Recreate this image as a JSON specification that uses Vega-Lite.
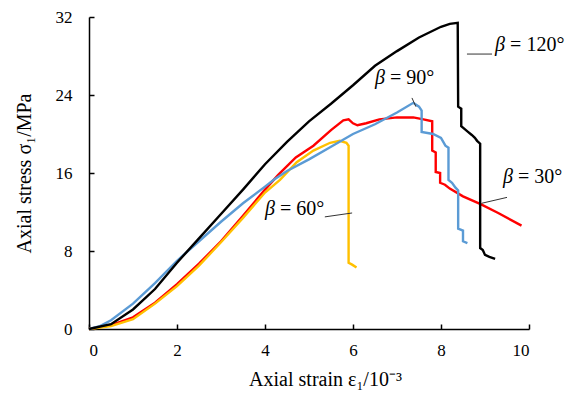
{
  "$schema": "https://vega.github.io/schema/vega-lite/v6.json",
  "width": 440,
  "height": 312,
  "autosize": {"type": "none"},
  "padding": {"left": 89, "top": 17, "right": 44, "bottom": 72},
  "background": "white",
  "config": {
    "view": {"stroke": null},
    "font": "Liberation Serif, Times New Roman, serif",
    "axis": {
      "grid": false,
      "domainColor": "#000000",
      "domainWidth": 1.5,
      "tickColor": "#000000",
      "tickWidth": 1.5,
      "tickSize": -5,
      "labelFont": "Liberation Serif, Times New Roman, serif",
      "labelFontSize": 17,
      "labelColor": "#000000",
      "titleFont": "Liberation Serif, Times New Roman, serif",
      "titleFontSize": 20,
      "titleFontWeight": "normal",
      "titleColor": "#000000"
    }
  },
  "datasets": {
    "curves": [
      {"s": "β = 30°", "x": 0, "y": 0}, {"s": "β = 30°", "x": 0.5, "y": 0.4}, {"s": "β = 30°", "x": 1, "y": 1.2}, {"s": "β = 30°", "x": 1.5, "y": 2.7}, {"s": "β = 30°", "x": 2, "y": 4.6}, {"s": "β = 30°", "x": 2.5, "y": 6.7}, {"s": "β = 30°", "x": 3, "y": 9.0}, {"s": "β = 30°", "x": 3.5, "y": 11.6}, {"s": "β = 30°", "x": 4, "y": 14.3}, {"s": "β = 30°", "x": 4.3, "y": 15.8}, {"s": "β = 30°", "x": 4.7, "y": 17.6}, {"s": "β = 30°", "x": 5.1, "y": 18.8}, {"s": "β = 30°", "x": 5.5, "y": 20.4}, {"s": "β = 30°", "x": 5.78, "y": 21.4}, {"s": "β = 30°", "x": 5.9, "y": 21.5}, {"s": "β = 30°", "x": 6.0, "y": 21.1}, {"s": "β = 30°", "x": 6.1, "y": 20.9}, {"s": "β = 30°", "x": 6.3, "y": 21.1}, {"s": "β = 30°", "x": 6.6, "y": 21.5}, {"s": "β = 30°", "x": 7.0, "y": 21.7}, {"s": "β = 30°", "x": 7.37, "y": 21.7}, {"s": "β = 30°", "x": 7.6, "y": 21.5}, {"s": "β = 30°", "x": 7.8, "y": 21.3}, {"s": "β = 30°", "x": 7.8, "y": 18.3}, {"s": "β = 30°", "x": 7.88, "y": 18.1}, {"s": "β = 30°", "x": 7.88, "y": 16.1}, {"s": "β = 30°", "x": 7.98, "y": 16.0}, {"s": "β = 30°", "x": 7.98, "y": 15.0}, {"s": "β = 30°", "x": 8.09, "y": 14.8}, {"s": "β = 30°", "x": 8.2, "y": 14.4}, {"s": "β = 30°", "x": 8.5, "y": 13.6}, {"s": "β = 30°", "x": 8.9, "y": 12.8}, {"s": "β = 30°", "x": 9.3, "y": 11.9}, {"s": "β = 30°", "x": 9.83, "y": 10.6},
      {"s": "β = 60°", "x": 0, "y": 0}, {"s": "β = 60°", "x": 0.5, "y": 0.3}, {"s": "β = 60°", "x": 1, "y": 1.0}, {"s": "β = 60°", "x": 1.5, "y": 2.6}, {"s": "β = 60°", "x": 2, "y": 4.4}, {"s": "β = 60°", "x": 2.5, "y": 6.5}, {"s": "β = 60°", "x": 3, "y": 8.9}, {"s": "β = 60°", "x": 3.5, "y": 11.4}, {"s": "β = 60°", "x": 4, "y": 14.0}, {"s": "β = 60°", "x": 4.34, "y": 15.3}, {"s": "β = 60°", "x": 4.72, "y": 17.1}, {"s": "β = 60°", "x": 5.1, "y": 18.3}, {"s": "β = 60°", "x": 5.48, "y": 19.1}, {"s": "β = 60°", "x": 5.7, "y": 19.3}, {"s": "β = 60°", "x": 5.85, "y": 19.1}, {"s": "β = 60°", "x": 5.9, "y": 18.8}, {"s": "β = 60°", "x": 5.9, "y": 6.8}, {"s": "β = 60°", "x": 5.98, "y": 6.6}, {"s": "β = 60°", "x": 6.08, "y": 6.3},
      {"s": "β = 90°", "x": 0, "y": 0}, {"s": "β = 90°", "x": 0.25, "y": 0.3}, {"s": "β = 90°", "x": 0.5, "y": 0.9}, {"s": "β = 90°", "x": 1, "y": 2.6}, {"s": "β = 90°", "x": 1.5, "y": 4.7}, {"s": "β = 90°", "x": 2, "y": 7.0}, {"s": "β = 90°", "x": 2.5, "y": 9.0}, {"s": "β = 90°", "x": 3, "y": 11.0}, {"s": "β = 90°", "x": 3.5, "y": 12.9}, {"s": "β = 90°", "x": 4, "y": 14.6}, {"s": "β = 90°", "x": 4.2, "y": 15.3}, {"s": "β = 90°", "x": 4.5, "y": 16.2}, {"s": "β = 90°", "x": 5, "y": 17.4}, {"s": "β = 90°", "x": 5.5, "y": 18.7}, {"s": "β = 90°", "x": 6, "y": 20.0}, {"s": "β = 90°", "x": 6.5, "y": 21.0}, {"s": "β = 90°", "x": 7, "y": 22.2}, {"s": "β = 90°", "x": 7.37, "y": 23.2}, {"s": "β = 90°", "x": 7.5, "y": 22.8}, {"s": "β = 90°", "x": 7.56, "y": 22.4}, {"s": "β = 90°", "x": 7.56, "y": 20.2}, {"s": "β = 90°", "x": 7.82, "y": 20.0}, {"s": "β = 90°", "x": 8.0, "y": 19.6}, {"s": "β = 90°", "x": 8.1, "y": 18.8}, {"s": "β = 90°", "x": 8.17, "y": 18.6}, {"s": "β = 90°", "x": 8.17, "y": 15.3}, {"s": "β = 90°", "x": 8.25, "y": 15.0}, {"s": "β = 90°", "x": 8.33, "y": 14.5}, {"s": "β = 90°", "x": 8.39, "y": 14.2}, {"s": "β = 90°", "x": 8.39, "y": 10.3}, {"s": "β = 90°", "x": 8.5, "y": 10.1}, {"s": "β = 90°", "x": 8.5, "y": 9.0}, {"s": "β = 90°", "x": 8.6, "y": 8.8},
      {"s": "β = 120°", "x": 0, "y": 0}, {"s": "β = 120°", "x": 0.5, "y": 0.5}, {"s": "β = 120°", "x": 1, "y": 2.0}, {"s": "β = 120°", "x": 1.5, "y": 4.1}, {"s": "β = 120°", "x": 2, "y": 6.8}, {"s": "β = 120°", "x": 2.5, "y": 9.3}, {"s": "β = 120°", "x": 3, "y": 11.8}, {"s": "β = 120°", "x": 3.5, "y": 14.3}, {"s": "β = 120°", "x": 4, "y": 16.9}, {"s": "β = 120°", "x": 4.5, "y": 19.2}, {"s": "β = 120°", "x": 5, "y": 21.3}, {"s": "β = 120°", "x": 5.5, "y": 23.1}, {"s": "β = 120°", "x": 6, "y": 25.0}, {"s": "β = 120°", "x": 6.5, "y": 27.0}, {"s": "β = 120°", "x": 7, "y": 28.5}, {"s": "β = 120°", "x": 7.5, "y": 29.9}, {"s": "β = 120°", "x": 8, "y": 31.0}, {"s": "β = 120°", "x": 8.2, "y": 31.3}, {"s": "β = 120°", "x": 8.38, "y": 31.4}, {"s": "β = 120°", "x": 8.39, "y": 22.8}, {"s": "β = 120°", "x": 8.46, "y": 22.6}, {"s": "β = 120°", "x": 8.46, "y": 20.8}, {"s": "β = 120°", "x": 8.54, "y": 20.5}, {"s": "β = 120°", "x": 8.62, "y": 20.2}, {"s": "β = 120°", "x": 8.7, "y": 19.9}, {"s": "β = 120°", "x": 8.77, "y": 19.6}, {"s": "β = 120°", "x": 8.82, "y": 19.3}, {"s": "β = 120°", "x": 8.89, "y": 19.0}, {"s": "β = 120°", "x": 8.89, "y": 8.3}, {"s": "β = 120°", "x": 8.95, "y": 8.1}, {"s": "β = 120°", "x": 9.0, "y": 7.6}, {"s": "β = 120°", "x": 9.1, "y": 7.4}, {"s": "β = 120°", "x": 9.23, "y": 7.2}
    ],
    "labels": [
      {"t": "= 120°", "x": 9.23, "y": 29.1},
      {"t": "= 90°", "x": 6.5, "y": 25.7},
      {"t": "= 30°", "x": 9.41, "y": 15.6},
      {"t": "= 60°", "x": 4.0, "y": 12.3}
    ],
    "leaders": [
      {"x": 8.59, "y": 28.2, "x2": 9.16, "y2": 28.2},
      {"x": 7.34, "y": 23.7, "x2": 7.43, "y2": 22.8},
      {"x": 8.93, "y": 12.9, "x2": 9.5, "y2": 13.5},
      {"x": 5.36, "y": 11.5, "x2": 5.98, "y2": 11.9}
    ]
  },
  "layer": [
    {
      "data": {"name": "curves"},
      "mark": {"type": "line", "strokeWidth": 2.4},
      "encoding": {
        "x": {"field": "x", "type": "quantitative", "scale": {"domain": [0, 10], "nice": false},
              "axis": {"values": [0, 2, 4, 6, 8, 10], "title": "Axial strain ε₁/10⁻³", "labelPadding": 18, "titlePadding": 11, "titleX": 236}},
        "y": {"field": "y", "type": "quantitative", "scale": {"domain": [0, 32], "nice": false},
              "axis": {"values": [0, 8, 16, 24, 32], "title": "Axial stress σ₁/MPa", "labelPadding": 22, "titlePadding": 21}},
        "color": {"field": "s", "type": "nominal",
                  "scale": {"domain": ["β = 30°", "β = 60°", "β = 90°", "β = 120°"], "range": ["#FF0000", "#FFC000", "#5B9BD5", "#000000"]},
                  "legend": null},
        "detail": {"field": "s"},
        "order": {"value": null}
      }
    },
    {
      "data": {"name": "leaders"},
      "mark": {"type": "rule", "color": "#333333", "strokeWidth": 1},
      "encoding": {
        "x": {"field": "x", "type": "quantitative"},
        "y": {"field": "y", "type": "quantitative"},
        "x2": {"field": "x2"},
        "y2": {"field": "y2"}
      }
    },
    {
      "data": {"name": "labels"},
      "mark": {"type": "text", "font": "Liberation Serif, Times New Roman, serif", "fontSize": 20, "fontStyle": "italic", "align": "left", "baseline": "middle", "color": "#000000"},
      "encoding": {
        "x": {"field": "x", "type": "quantitative"},
        "y": {"field": "y", "type": "quantitative"},
        "text": {"value": "β"}
      }
    },
    {
      "data": {"name": "labels"},
      "mark": {"type": "text", "font": "Liberation Serif, Times New Roman, serif", "fontSize": 20, "align": "left", "baseline": "middle", "dx": 15, "color": "#000000"},
      "encoding": {
        "x": {"field": "x", "type": "quantitative"},
        "y": {"field": "y", "type": "quantitative"},
        "text": {"field": "t"}
      }
    }
  ]
}
